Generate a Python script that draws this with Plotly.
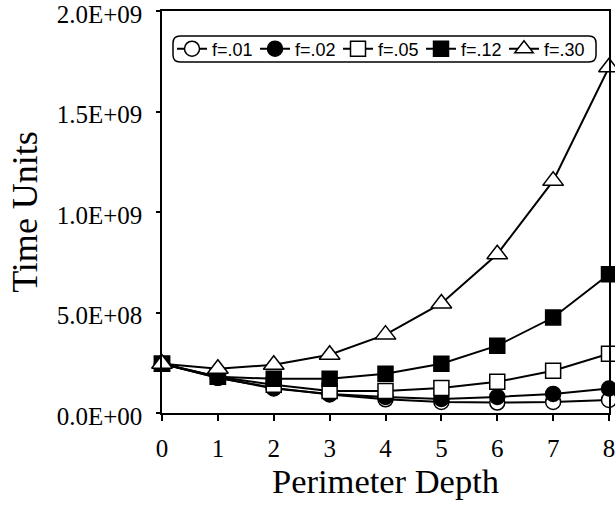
import plotly.graph_objects as go

depth = [0, 1, 2, 3, 4, 5, 6, 7, 8]
f01 = [2.45e8, 1.75e8, 1.25e8, 0.92e8, 0.68e8, 0.55e8, 0.52e8, 0.55e8, 0.65e8]
f02 = [2.45e8, 1.75e8, 1.22e8, 0.95e8, 0.80e8, 0.70e8, 0.80e8, 0.95e8, 1.22e8]
f05 = [2.45e8, 1.80e8, 1.40e8, 1.10e8, 1.10e8, 1.25e8, 1.55e8, 2.10e8, 2.95e8]
f12 = [2.45e8, 1.80e8, 1.70e8, 1.70e8, 1.95e8, 2.45e8, 3.35e8, 4.75e8, 6.90e8]
f30 = [2.45e8, 2.20e8, 2.40e8, 2.90e8, 3.90e8, 5.45e8, 7.90e8, 1.155e9, 1.72e9]

series_names = ["f=.01", "f=.02", "f=.05", "f=.12", "f=.30"]
y_tickvals = [0, 5e8, 1e9, 1.5e9, 2e9]
y_ticktext = ["0.0E+00", "5.0E+08", "1.0E+09", "1.5E+09", "2.0E+09"]
x_tickvals = depth

styles = [
    dict(symbol="circle", color="white", size=15),
    dict(symbol="circle", color="black", size=15),
    dict(symbol="square", color="white", size=15),
    dict(symbol="square", color="black", size=15),
    dict(symbol="triangle-up", color="white", size=18),
]

fig = go.Figure()
for name, ys, st in zip(series_names, [f01, f02, f05, f12, f30], styles):
    fig.add_trace(go.Scatter(
        x=depth, y=ys, name=name, mode="lines+markers",
        line=dict(color="black", width=2),
        marker=dict(symbol=st["symbol"], color=st["color"], size=st["size"],
                    line=dict(color="black", width=1.5)),
        cliponaxis=False,
    ))

serif = "Liberation Serif, Times New Roman, serif"
y_range = [0, 2e9]

# rounded legend frame in paper coordinates
x0, x1, y0, y1 = 0.0246, 0.971, 0.873, 0.938
rx, ry = 0.016, 0.018
path = (f"M {x0+rx},{y0} L {x1-rx},{y0} Q {x1},{y0} {x1},{y0+ry} "
        f"L {x1},{y1-ry} Q {x1},{y1} {x1-rx},{y1} L {x0+rx},{y1} "
        f"Q {x0},{y1} {x0},{y1-ry} L {x0},{y0+ry} Q {x0},{y0} {x0+rx},{y0} Z")

fig.update_layout(
    width=615, height=508,
    margin=dict(l=162, r=6, t=11, b=95),
    paper_bgcolor="white", plot_bgcolor="white",
    showlegend=True,
    legend=dict(orientation="h", x=0.4866, xanchor="center", y=0.9055, yanchor="middle",
                font=dict(family="Liberation Sans, Arial, sans-serif", size=18, color="black"),
                bgcolor="rgba(0,0,0,0)", borderwidth=0, itemwidth=30,
                entrywidth=38, entrywidthmode="pixels", tracegroupgap=0),
    shapes=[dict(type="path", path=path, xref="paper", yref="paper",
                 line=dict(color="black", width=1.5), fillcolor="white", layer="below")],
    xaxis=dict(range=[0, 8], tickvals=x_tickvals, ticks="outside", ticklen=6, tickwidth=1.5,
               tickcolor="black", showline=True, linecolor="black", linewidth=1.5, mirror=True,
               showgrid=False, zeroline=False, ticklabelstandoff=6, ticklabeloverflow="allow",
               automargin="bottom",
               tickfont=dict(family=serif, size=25, color="black"),
               title=dict(text="Perimeter Depth", font=dict(family=serif, size=34.5, color="black"),
                          standoff=7)),
    yaxis=dict(range=y_range, tickvals=y_tickvals, ticktext=y_ticktext, ticks="outside",
               ticklen=4, tickwidth=1.5, tickcolor="black", showline=True, linecolor="black",
               linewidth=1.5, mirror=True, showgrid=False, zeroline=False, ticklabelstandoff=9,
               ticklabelshift=3,
               ticklabeloverflow="allow", automargin="left",
               tickfont=dict(family=serif, size=25, color="black"),
               title=dict(text="Time Units", font=dict(family=serif, size=36, color="black"),
                          standoff=8)),
    xaxis2=dict(overlaying="x", matches="x", range=[0, 8], tickvals=x_tickvals, ticks="inside",
                ticklen=6, tickwidth=1.5, tickcolor="black", showticklabels=False,
                showline=False, showgrid=False, zeroline=False, anchor="y", side="bottom",
                automargin=False),
    yaxis2=dict(overlaying="y", matches="y", range=y_range, tickvals=y_tickvals, ticks="inside",
                ticklen=4, tickwidth=1.5, tickcolor="black", showticklabels=False,
                showline=False, showgrid=False, zeroline=False, anchor="x", side="left",
                automargin=False),
)

fig.write_html("out.html")
